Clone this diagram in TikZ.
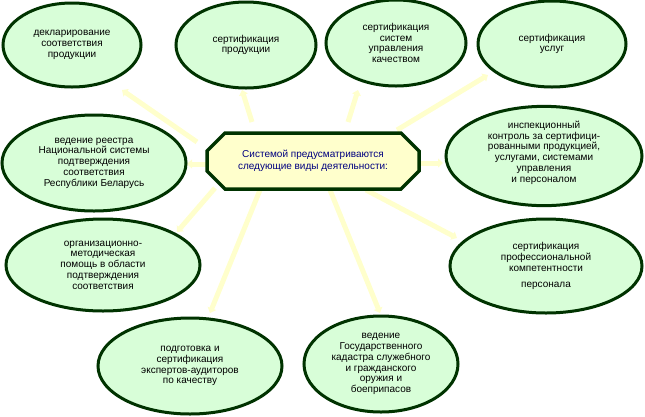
\documentclass[tikz,border=0pt]{standalone}
\usepackage{fontspec}
\setmainfont{Liberation Sans}
\usetikzlibrary{shapes.geometric,shapes.misc,arrows.meta,backgrounds}
\definecolor{ellfill}{HTML}{D8FED8}
\definecolor{dgreen}{HTML}{003300}
\definecolor{pyellow}{HTML}{FFFFCC}
\definecolor{navy}{HTML}{000080}
\begin{document}
\begin{tikzpicture}[x=1pt,y=-1pt,
  ell/.style={ellipse,draw=dgreen,line width=3pt,fill=ellfill,inner sep=0pt,
    align=center,font=\fontsize{10}{10.8}\selectfont,text=black},
  centerbox/.style={chamfered rectangle,chamfered rectangle xsep=9pt,
    chamfered rectangle ysep=9pt,draw=dgreen,line width=3.5pt,fill=pyellow,
    minimum width=212pt,minimum height=56pt,inner sep=0pt,align=center,
    font=\fontsize{10}{12.5}\selectfont,text=navy},
  arr/.style={draw=pyellow,line width=5pt,-{Triangle[length=5pt,width=9pt]}}]
\useasboundingbox (0,0) rectangle (645,416);

\node[centerbox] (box) at (313,161) {Системой предусматриваются\\следующие виды деятельности:};

\node[ell,minimum width=138pt,minimum height=84pt] (decl) at (72,45)
  {декларирование\\соответствия\\продукции};
\node[ell,minimum width=140pt,minimum height=86pt] (prod) at (246,45)
  {сертификация\\продукции};
\node[ell,minimum width=140pt,minimum height=86pt] (sys) at (396,43)
  {сертификация\\систем\\управления\\качеством};
\node[ell,minimum width=148pt,minimum height=86pt] (usl) at (552,44)
  {сертификация\\услуг};
\node[ell,minimum width=196pt,minimum height=86pt] (insp) at (544,156)
  {\raisebox{0pt}{}инспекционный\\контроль за сертифици-\\рованными продукцией,\\услугами, системами\\управления\\и персоналом\\[-2pt]\mbox{}};
\node[ell,minimum width=192pt,minimum height=94pt] (prof) at (546,266)
  {сертификация\\профессиональной\\компетентности\\[5pt]персонала};
\node[ell,minimum width=154pt,minimum height=96pt] (gos) at (381,364)
  {ведение\\Государственного\\кадастра служебного\\и гражданского\\оружия и\\боеприпасов};
\node[ell,minimum width=184pt,minimum height=96pt] (podg) at (190,366)
  {подготовка и\\сертификация\\экспертов-аудиторов\\по качеству};
\node[ell,minimum width=194pt,minimum height=92pt] (org) at (103,265)
  {организационно-\\методическая\\помощь в области\\подтверждения\\соответствия};
\node[ell,minimum width=184pt,minimum height=96pt] (reestr) at (94,163)
  {ведение реестра\\Национальной системы\\подтверждения\\соответствия\\Республики Беларусь};

\coordinate (s1) at (197,142);  \coordinate (t1) at (122,90);
\coordinate (s2) at (252,122);  \coordinate (t2) at (242,90);
\coordinate (s3) at (348,122);  \coordinate (t3) at (358,90);
\coordinate (s4) at (397,130);  \coordinate (t4) at (488,75);
\coordinate (s5) at (418,163);  \coordinate (t5) at (443,163);
\coordinate (s6) at (366,190);  \coordinate (t6) at (457,238);
\coordinate (s7) at (330,190);  \coordinate (t7) at (380,313);
\coordinate (s8) at (260,190);  \coordinate (t8) at (210,313);
\coordinate (s9) at (215,188);  \coordinate (t9) at (177,232);
\coordinate (s10) at (206,164); \coordinate (t10) at (187,164);

\begin{scope}[on background layer]
\foreach \i in {1,...,10} {\draw[arr] (s\i) -- (t\i);}
\end{scope}
\end{tikzpicture}
\end{document}
